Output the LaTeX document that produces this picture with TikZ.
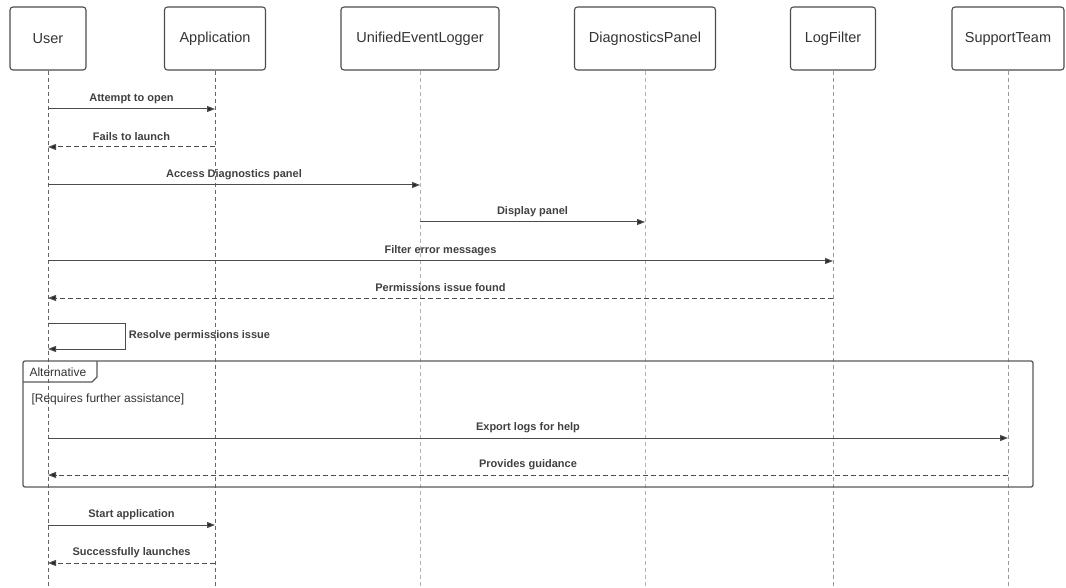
\documentclass[tikz,border=0pt]{standalone}
\usepackage{fontspec}
\setmainfont{Liberation Sans}
\usetikzlibrary{arrows.meta}

\begin{document}
\begin{tikzpicture}[
        x=1pt, y=-1pt,
        >={Triangle[length=8pt, width=6pt, fill=black!85]},
        actor/.style={
            draw=black!70,
            line width=1.1pt,
            rounded corners=3pt,
            minimum height=63pt,
            font=\fontsize{14.5}{16}\selectfont,
            text=black!80
        },
        lifeline/.style={dash pattern=on 4pt off 3pt, line width=0.8pt},
        msg/.style={->, draw=black!70, line width=1pt},
        reply/.style={msg, dash pattern=on 5pt off 3pt},
        msgfont/.style={font=\bfseries\fontsize{11}{13}\selectfont, text=black!75},
        msglabel/.style={msgfont, midway, yshift=10pt},
        altframe/.style={draw=black!65, line width=1.3pt},
        frametext/.style={font=\fontsize{12}{14}\selectfont, text=black!80, anchor=west}
    ]
        \useasboundingbox (0,0) rectangle (1066,588);

        % Participants
        \node[actor, minimum width=76pt] (user) at (48,38.5) {User};
        \node[actor, minimum width=101pt] (app) at (215,38.5) {Application};
        \node[actor, minimum width=158pt] (logger) at (420,38.5) {UnifiedEventLogger};
        \node[actor, minimum width=141pt] (panel) at (645,38.5) {DiagnosticsPanel};
        \node[actor, minimum width=85pt] (filter) at (833,38.5) {LogFilter};
        \node[actor, minimum width=112pt] (support) at (1008,38.5) {SupportTeam};

        % Lifelines
        \coordinate (bottom) at (0,588);
        \foreach \p/\c in {user/60, app/60, logger/30, panel/30, filter/40, support/40}
            \draw[lifeline, draw=black!\c] (\p.south) -- (\p.south |- bottom);

        % Messages
        \coordinate (m1) at (0,109);
        \coordinate (m2) at (0,147);
        \coordinate (m3) at (0,185);
        \coordinate (m4) at (0,222);
        \coordinate (m5) at (0,261);
        \coordinate (m6) at (0,298);
        \draw[msg] (user |- m1) -- node[msglabel] {Attempt to open} (app |- m1);
        \draw[reply] (app |- m2) -- node[msglabel] {Fails to launch} (user |- m2);
        \draw[msg] (user |- m3) -- node[msglabel] {Access Diagnostics panel} (logger |- m3);
        \draw[msg] (logger |- m4) -- node[msglabel] {Display panel} (panel |- m4);
        \draw[msg] (user |- m5) -- node[msglabel] {Filter error messages} (filter |- m5);
        \draw[reply] (filter |- m6) -- node[msglabel] {Permissions issue found} (user |- m6);

        % Self message
        \coordinate (s1) at (0,323);
        \coordinate (s2) at (0,349);
        \draw[msg] (user |- s1) -- ++(77,0) |- node[msgfont, pos=0.25, anchor=west] {Resolve permissions issue} (user |- s2);

        % Alternative frame
        \coordinate (altnw) at (23,361);
        \coordinate (altse) at (1033,487);
        \draw[altframe, rounded corners=2pt] (altnw) rectangle (altse);
        \draw[altframe] (altnw) ++(0,21) -- ++(69,0) -- ++(5,-5) -- ++(0,-16);
        \node[frametext] (alttitle) at (26,372) {Alternative};
        \node[frametext] (guard) at (28,399) {[Requires further assistance]};

        \coordinate (m7) at (0,438);
        \coordinate (m8) at (0,475);
        \draw[msg] (user |- m7) -- node[msglabel] {Export logs for help} (support |- m7);
        \draw[reply] (support |- m8) -- node[msglabel] {Provides guidance} (user |- m8);

        % After the frame
        \coordinate (m9) at (0,525);
        \coordinate (m10) at (0,563);
        \draw[msg] (user |- m9) -- node[msglabel] {Start application} (app |- m9);
        \draw[reply] (app |- m10) -- node[msglabel] {Successfully launches} (user |- m10);
    \end{tikzpicture}
\end{document}
